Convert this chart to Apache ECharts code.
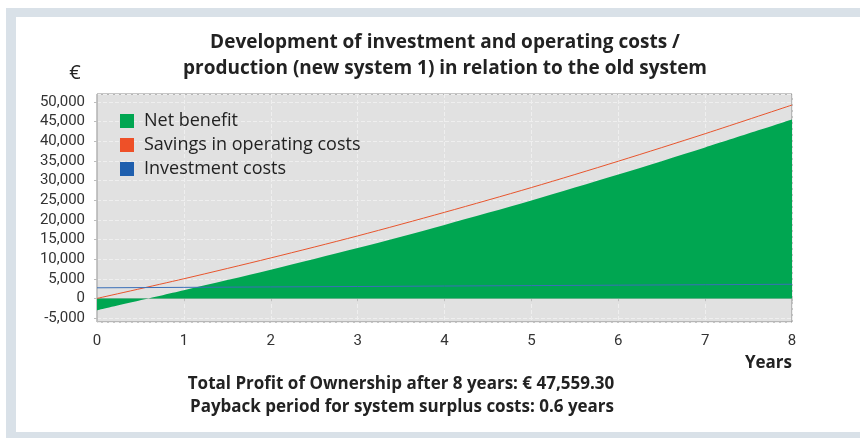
<!DOCTYPE html>
<html>
<head>
<meta charset="utf-8">
<script src="https://cdn.jsdelivr.net/npm/echarts@6/dist/echarts.min.js"></script>
<style>
  html, body { margin: 0; padding: 0; background: #ffffff; }
  #chart { width: 860px; height: 438px; }
</style>
</head>
<body>
<div id="chart"></div>
<script>
// Years after commissioning
const years = [0, 1, 2, 3, 4, 5, 6, 7, 8];
// Cumulative savings in operating costs (€)
const savings = [0, 5000, 10300, 15900, 21900, 28200, 34900, 41900, 49200];
// Cumulative investment costs (€)
const investment = [2700, 2810, 2920, 3030, 3150, 3260, 3370, 3480, 3600];
// Net benefit (€)
const netBenefit = [-3000, 2100, 7300, 12800, 18700, 24900, 31500, 38400, 45500];
// Value axis range
const yMin = -6000;
const yMax = 52000;

const seriesNames = ['Net benefit', 'Savings in operating costs', 'Investment costs'];
const pairs = (vals) => years.map((t, i) => [t, vals[i]]);

const FONT = '"Open Sans", Roboto, sans-serif';
const AXIS_FONT = 'Roboto, "Open Sans", sans-serif';
const chart = echarts.init(document.getElementById('chart'), null, { renderer: 'canvas' });

chart.setOption({
  animation: false,
  backgroundColor: '#ffffff',
  textStyle: { fontFamily: FONT },
  graphic: [
    { type: 'rect', z: -10, silent: true, shape: { x: 6, y: 8, width: 854, height: 430 }, style: { fill: '#d9e1e8' } },
    { type: 'rect', z: -9, silent: true, shape: { x: 16, y: 17, width: 844, height: 415 }, style: { fill: '#ffffff' } },
    { type: 'text', silent: true, style: { text: 'Development of investment and operating costs /', x: 445, y: 43, textAlign: 'center', textVerticalAlign: 'middle', font: 'bold 19px ' + FONT, fill: '#222222' } },
    { type: 'text', silent: true, style: { text: 'production (new system 1) in relation to the old system', x: 445, y: 69, textAlign: 'center', textVerticalAlign: 'middle', font: 'bold 19px ' + FONT, fill: '#222222' } },
    { type: 'text', silent: true, style: { text: '€', x: 75, y: 73, textAlign: 'center', textVerticalAlign: 'middle', font: '20px ' + FONT, fill: '#222222' } },
    { type: 'text', silent: true, style: { text: 'Years', x: 792, y: 363, textAlign: 'right', textVerticalAlign: 'middle', font: 'bold 17px ' + FONT, fill: '#222222' } },
    { type: 'text', silent: true, style: { text: 'Total Profit of Ownership after 8 years: € 47,559.30', x: 401, y: 384, textAlign: 'center', textVerticalAlign: 'middle', font: 'bold 17px ' + FONT, fill: '#222222' } },
    { type: 'text', silent: true, style: { text: 'Payback period for system surplus costs: 0.6 years', x: 402, y: 407, textAlign: 'center', textVerticalAlign: 'middle', font: 'bold 17px ' + FONT, fill: '#222222' } }
  ],
  legend: {
    orient: 'vertical',
    left: 115,
    top: 107,
    itemWidth: 14,
    itemHeight: 14,
    itemGap: 6,
    icon: 'rect',
    data: seriesNames,
    textStyle: { fontSize: 18, color: '#222222', padding: [0, 0, 0, 5], fontFamily: FONT }
  },
  grid: {
    left: 97, right: 68, top: 94, bottom: 116,
    show: true,
    backgroundColor: '#e1e1e1',
    borderColor: '#8c8c8c',
    borderWidth: 1
  },
  xAxis: {
    type: 'value',
    min: 0, max: 8, interval: 1,
    offset: 4,
    axisLine: { show: true, lineStyle: { color: '#bdbdbd' } },
    axisTick: { show: true, length: 3, lineStyle: { color: '#bdbdbd' } },
    axisLabel: { fontSize: 15, color: '#333333', margin: 8, fontFamily: AXIS_FONT },
    splitLine: { show: true, lineStyle: { color: '#efefef', type: 'dashed', width: 1 } }
  },
  yAxis: {
    type: 'value',
    min: yMin, max: yMax, splitNumber: 11,
    offset: 4,
    axisLine: { show: true, lineStyle: { color: '#bdbdbd' } },
    axisTick: { show: true, length: 3, lineStyle: { color: '#bdbdbd' } },
    axisLabel: {
      fontSize: 15, color: '#333333', margin: 8, fontFamily: AXIS_FONT,
      showMinLabel: false, showMaxLabel: false,
      formatter: (v) => v.toLocaleString('en-US')
    },
    splitLine: { show: true, lineStyle: { color: '#efefef', type: 'dashed', width: 1 } }
  },
  series: [
    {
      name: seriesNames[0],
      type: 'line',
      data: pairs(netBenefit),
      smooth: 0.3,
      symbol: 'none',
      itemStyle: { color: '#00a651' },
      lineStyle: { width: 0 },
      areaStyle: { color: '#00a651', opacity: 1, origin: 'auto' },
      z: 2
    },
    {
      name: seriesNames[1],
      type: 'line',
      data: pairs(savings),
      smooth: 0.3,
      symbol: 'none',
      itemStyle: { color: '#ee5028' },
      lineStyle: { width: 1, color: '#e8552d' },
      z: 3
    },
    {
      name: seriesNames[2],
      type: 'line',
      data: pairs(investment),
      symbol: 'none',
      itemStyle: { color: '#1f5fae' },
      lineStyle: { width: 1, color: '#3a6fb8' },
      z: 4
    }
  ]
});
</script>
</body>
</html>
